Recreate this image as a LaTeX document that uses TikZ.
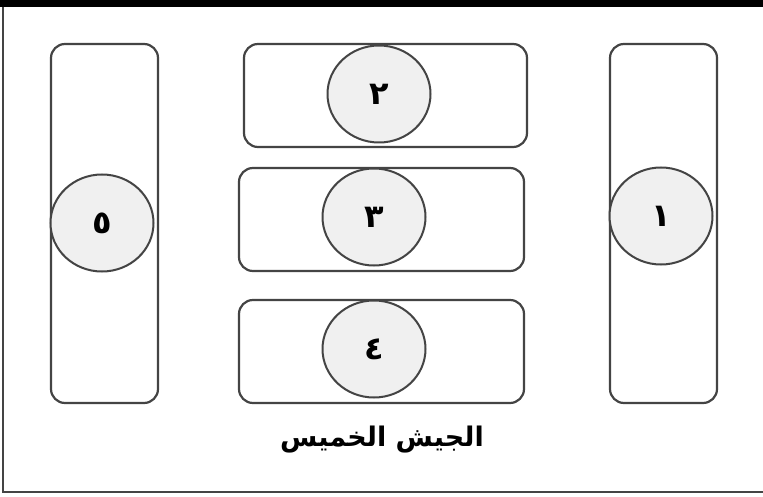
\documentclass[tikz,border=0pt]{standalone}
\usepackage{fontspec}
\newfontfamily\arabicfont[Script=Arabic]{DejaVu Sans}
\TeXXeTstate=1
\usetikzlibrary{shapes.geometric}
\definecolor{linegray}{HTML}{444444}
\definecolor{fillgray}{HTML}{F0F0F0}
\begin{document}
\begin{tikzpicture}[x=1pt,y=-1pt,
  lane/.style={draw=linegray, line width=2.2pt, rounded corners=14pt, inner sep=0pt, rectangle},
  unit/.style={ellipse, draw=linegray, line width=2pt, fill=fillgray, minimum width=103pt, minimum height=97pt, inner sep=0pt, font=\arabicfont\bfseries\fontsize{32}{36}\selectfont},
  title/.style={font=\arabicfont\bfseries\fontsize{27}{32}\selectfont, inner sep=0pt}]
\useasboundingbox (0,0) rectangle (763,497);
\fill[white] (0,0) rectangle (763,497);
% frame
\fill[black] (0,0) rectangle (763,7);
\draw[linegray, line width=2.5pt] (3,7) -- (3,492) -- (763,492);
% lanes
\node[lane, minimum width=107pt, minimum height=359pt] (r5) at (104.5,223.5) {};
\node[lane, minimum width=107pt, minimum height=359pt] (r1) at (663.5,223.5) {};
\node[lane, minimum width=283pt, minimum height=103pt] (r2) at (385.5,95.5) {};
\node[lane, minimum width=285pt, minimum height=103pt] (r3) at (381.5,219.5) {};
\node[lane, minimum width=285pt, minimum height=103pt] (r4) at (381.5,351.5) {};
% units
\node[unit] (c5) at (102,223) {\beginR ٥\endR};
\node[unit] (c1) at (661,216) {\beginR ١\endR};
\node[unit] (c2) at (379,94) {\beginR ٢\endR};
\node[unit] (c3) at (374,217) {\beginR ٣\endR};
\node[unit] (c4) at (374,349) {\beginR ٤\endR};
% title
\node[title] (t) at (382,440) {\beginR الجيش الخميس\endR};
\end{tikzpicture}
\end{document}
